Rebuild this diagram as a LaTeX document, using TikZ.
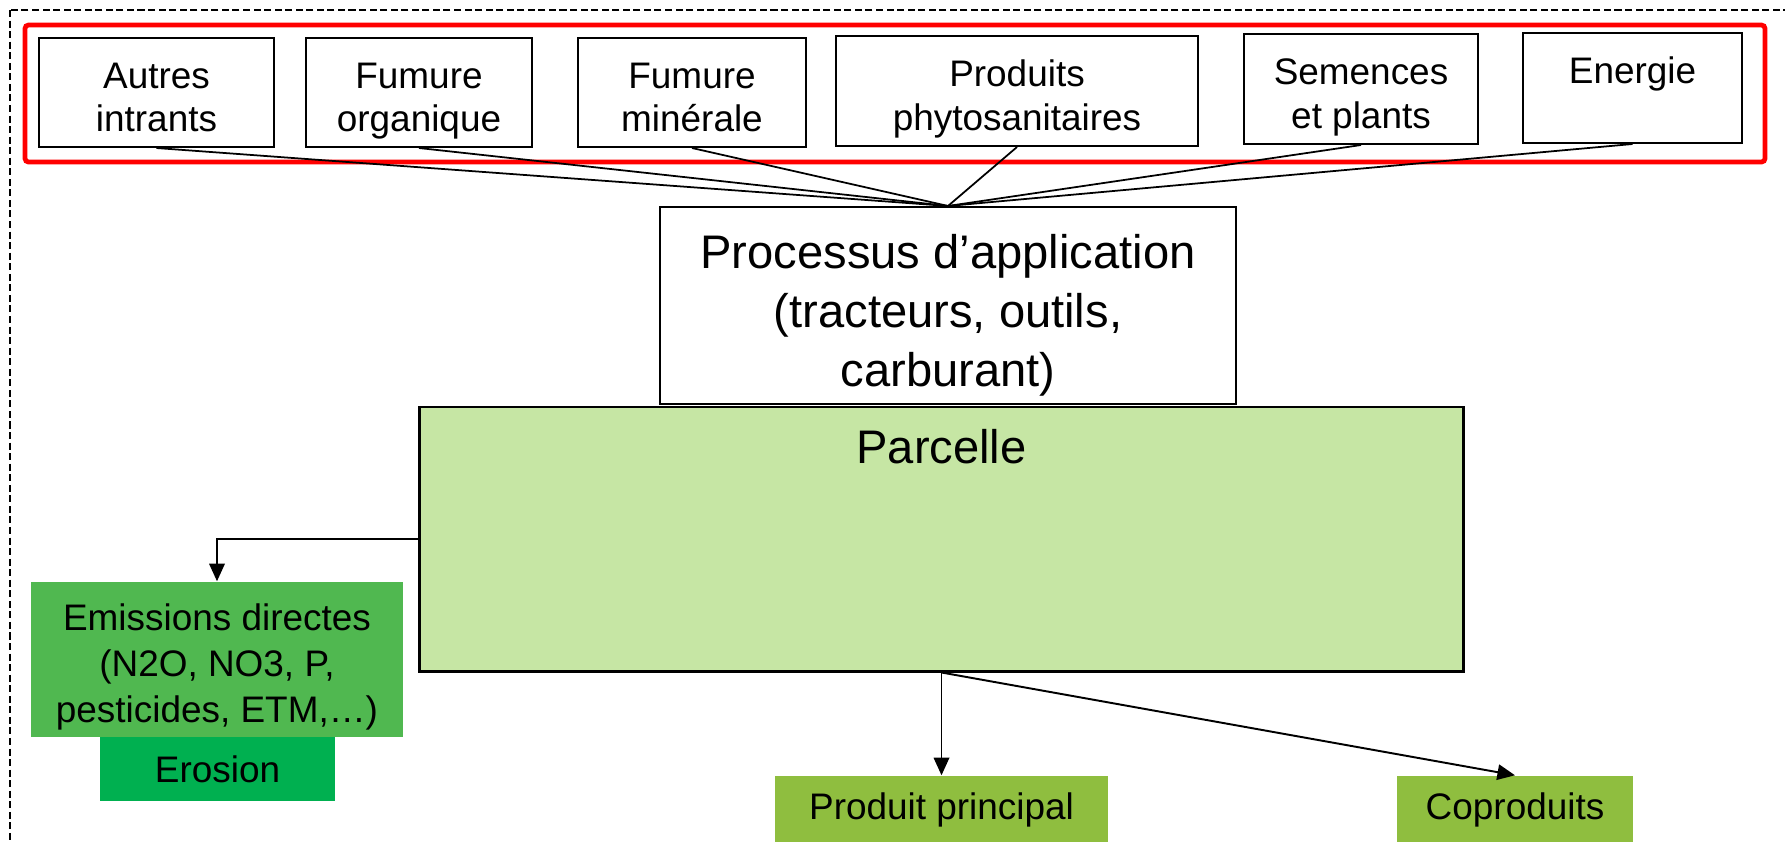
\documentclass[tikz,border=0pt]{standalone}
\usepackage{fontspec}
\setmainfont{Liberation Sans}
\usetikzlibrary{arrows.meta}

\definecolor{parcelgreen}{HTML}{C6E6A4}
\definecolor{emisgreen}{HTML}{50B850}
\definecolor{erosgreen}{HTML}{00B050}
\definecolor{prodgreen}{HTML}{8FBE3F}

\newcommand{\topline}{\rule{0pt}{1.3em}}

\begin{document}
\begin{tikzpicture}[x=0.01cm,y=-0.01cm,
  small text/.style={font=\fontsize{10.5pt}{13.2pt}\selectfont},
  box text/.style={font=\fontsize{10.5pt}{12.4pt}\selectfont},
  big text/.style={font=\fontsize{13.4pt}{16.8pt}\selectfont},
  input node/.style={draw,line width=0.55pt,inner sep=0pt,align=center,box text},
  result node/.style={inner sep=0pt,align=center,small text},
  link/.style={line width=0.5pt},
  arrow line/.style={line width=0.55pt,-{Triangle[length=5pt,width=4.4pt]}}]

  \useasboundingbox (0,0) rectangle (1785,841);
  \clip (0,0) rectangle (1785,841);

  \draw[line width=0.45pt,dash pattern=on 2pt off 1pt] (10,10) rectangle (1830,900);
  \draw[red,line width=1.35pt,rounded corners=1pt] (25,25) rectangle (1765,162);

  \node[input node,minimum width=2.35cm,minimum height=1.09cm] (autres) at (156.5,92.5) {\topline Autres\\intrants\strut};
  \node[input node,minimum width=2.26cm,minimum height=1.09cm] (organique) at (419,92.5) {\topline Fumure\\organique\strut};
  \node[input node,minimum width=2.28cm,minimum height=1.09cm] (minerale) at (692,92.5) {\topline Fumure\\min\'erale\strut};
  \node[input node,minimum width=3.62cm,minimum height=1.10cm] (phyto) at (1017,91) {\topline Produits\\phytosanitaires\strut};
  \node[input node,minimum width=2.34cm,minimum height=1.10cm] (semences) at (1361,89) {\topline Semences\\et plants\strut};
  \node[input node,minimum width=2.19cm,minimum height=1.10cm] (energie) at (1632.5,88) {\topline Energie\\\strut};

  \node[input node,big text,minimum width=5.76cm,minimum height=1.93cm] (process) at (948,305.5)
    {\topline Processus d’application\\(tracteurs, outils,\\carburant)\strut};

  \node[draw,line width=0.8pt,fill=parcelgreen,inner sep=0pt,minimum width=10.43cm,minimum height=2.64cm,
    label={[anchor=north,inner sep=0pt,yshift=-0.23cm,big text]north:Parcelle}] (parcelle) at (941.5,539) {};

  \node[result node,fill=emisgreen,minimum width=3.72cm,minimum height=1.55cm] (emis) at (217,659.5)
    {\topline Emissions directes\\(N2O, NO3, P,\\pesticides, ETM,…)\strut};
  \node[result node,fill=erosgreen,minimum width=2.35cm,minimum height=0.64cm] (erosion) at (217.5,769) {Erosion};

  \node[result node,fill=prodgreen,minimum width=3.33cm,minimum height=0.68cm] (principal) at (941.5,810) {Produit principal};
  \node[result node,fill=prodgreen,minimum width=2.36cm,minimum height=0.68cm] (coprod) at (1515,810) {Coproduits};

  \path[link]
   (autres.south) edge (process.north)
   (organique.south) edge (process.north)
   (minerale.south) edge (process.north)
   (phyto.south) edge (process.north)
   (semences.south) edge (process.north)
   (energie.south) edge (process.north);

  \draw[arrow line] (parcelle.west) -| (emis.north);
  \path[arrow line]
   (parcelle.south) edge (principal.north)
   (parcelle.south) edge (coprod.north);

\end{tikzpicture}
\end{document}
